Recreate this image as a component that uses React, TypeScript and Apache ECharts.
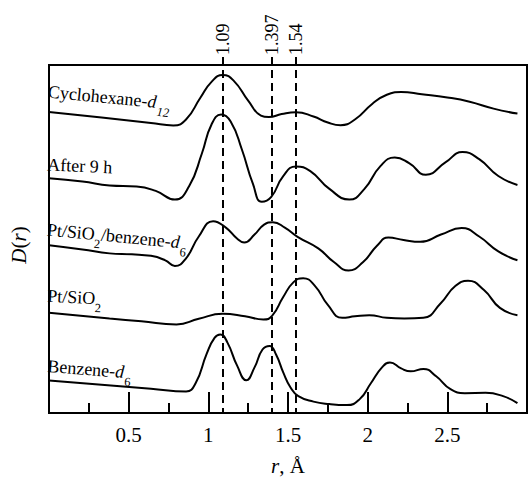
import React, { useEffect, useRef } from 'react';
import * as echarts from 'echarts';

const FONT = '"Liberation Serif", "Times New Roman", serif';

// r (Å) vs D(r) (arbitrary units, curves stacked as in the figure)
const cyclohexane: [number, number][] = [
  [0, 303.7], [0.33, 298], [0.64, 292.5], [0.78, 290], [0.86, 296], [0.95, 318], [1.02, 334],
  [1.09, 341], [1.16, 335], [1.25, 315], [1.33, 300], [1.38, 298.5], [1.46, 301.5], [1.55, 303.3],
  [1.66, 299], [1.75, 293], [1.83, 290.3], [1.92, 296], [2.03, 312], [2.12, 321], [2.21, 323.7],
  [2.34, 321.5], [2.5, 318.3], [2.64, 314], [2.79, 307], [2.94, 302],
];
const after9h: [number, number][] = [
  [0, 236.7], [0.21, 233.5], [0.38, 229.5], [0.55, 228.5], [0.67, 224], [0.79, 215.3], [0.88, 229],
  [0.96, 262], [1.02, 291], [1.08, 301], [1.14, 294], [1.21, 266], [1.28, 231], [1.335, 213],
  [1.395, 218], [1.47, 239], [1.55, 248.7], [1.64, 244], [1.76, 226], [1.885, 215.3], [1.98, 226],
  [2.08, 249], [2.17, 257.7], [2.26, 252], [2.365, 240.3], [2.49, 253], [2.595, 263.3], [2.7, 256],
  [2.82, 239], [2.94, 230],
];
const ptSiO2Benzene: [number, number][] = [
  [0, 169.3], [0.21, 165], [0.38, 161], [0.52, 160], [0.64, 158.5], [0.73, 154], [0.79, 148.3],
  [0.86, 156], [0.94, 178], [1.03, 193.5], [1.11, 187], [1.18, 176], [1.225, 172], [1.29, 180],
  [1.35, 190], [1.405, 192.5], [1.48, 187], [1.56, 177.7], [1.69, 166], [1.79, 152], [1.88, 143.7],
  [1.97, 152], [2.06, 169], [2.13, 177], [2.225, 174.5], [2.33, 172.7], [2.46, 180], [2.59, 186.5],
  [2.7, 178], [2.82, 163], [2.94, 154],
];
const ptSiO2: [number, number][] = [
  [0, 101], [0.38, 95.3], [0.58, 92.5], [0.8, 89.3], [0.94, 95], [1.09, 100], [1.23, 97.5],
  [1.345, 94.3], [1.4, 98], [1.47, 117], [1.535, 132], [1.595, 136], [1.67, 128], [1.75, 109],
  [1.84, 96], [1.92, 97.5], [2.01, 98.7], [2.12, 96], [2.23, 95.3], [2.35, 96], [2.46, 111],
  [2.55, 128], [2.63, 133.3], [2.73, 124], [2.83, 106], [2.94, 98.7],
];
const benzene: [number, number][] = [
  [0, 32.7], [0.33, 28.5], [0.64, 24.5], [0.86, 21.7], [0.92, 30], [0.99, 60], [1.04, 76],
  [1.075, 79.3], [1.12, 71], [1.18, 48], [1.238, 33], [1.29, 46], [1.34, 64], [1.385, 67.7],
  [1.425, 59], [1.47, 41], [1.515, 26], [1.565, 17], [1.66, 11.5], [1.76, 9], [1.87, 8], [1.95, 14],
  [2.02, 30], [2.09, 46], [2.14, 51], [2.21, 45], [2.27, 42], [2.35, 44.5], [2.43, 37], [2.52, 24],
  [2.61, 20], [2.74, 20.3], [2.85, 17], [2.94, 10],
];

// reference distances (Å) and their labels
const refLinePositions = [1.09, 1.397, 1.55];
const refLineLabels = ['1.09', '1.397', '1.54'];

// curve labels: parts (text, italic, subscript)
type Part = { t: string; it?: boolean; sub?: boolean };
const curveLabels: Part[][] = [
  [{ t: 'Cyclohexane-' }, { t: 'd', it: true }, { t: '12', it: true, sub: true }],
  [{ t: 'After 9 h' }],
  [{ t: 'Pt/SiO' }, { t: '2', sub: true }, { t: '/benzene-' }, { t: 'd', it: true }, { t: '6', sub: true }],
  [{ t: 'Pt/SiO' }, { t: '2', sub: true }],
  [{ t: 'Benzene-' }, { t: 'd', it: true }, { t: '6', sub: true }],
];

export default function App() {
  const ref = useRef<HTMLDivElement>(null);

  useEffect(() => {
    const chart = echarts.init(ref.current!, null, { renderer: 'svg' });
    const mkSeries = (data: [number, number][]) => ({
      type: 'line',
      data,
      smooth: 0.5,
      symbol: 'none',
      silent: true,
      lineStyle: { color: '#000', width: 2 },
    });
    chart.setOption({
      animation: false,
      textStyle: { fontFamily: FONT, color: '#000' },
      grid: { left: 45, top: 65, width: 495, height: 351, show: true, borderColor: '#000', borderWidth: 2 },
      xAxis: {
        type: 'value',
        min: 0,
        max: 3,
        interval: 0.5,
        axisLine: { show: true, lineStyle: { color: '#000', width: 2 } },
        axisTick: { show: true, inside: true, length: 21, lineStyle: { color: '#000', width: 2 } },
        minorTick: { show: true, splitNumber: 2, length: 10, lineStyle: { color: '#000', width: 2 } },
        splitLine: { show: false },
        axisLabel: {
          fontFamily: FONT,
          fontSize: 21,
          color: '#000',
          margin: 11,
          formatter: (v: number) => (v === 0 || v === 3 ? '' : String(v)),
        },
        name: '{i|r}, Å',
        nameLocation: 'middle',
        nameGap: 42,
        nameTextStyle: {
          fontFamily: FONT,
          fontSize: 21,
          color: '#000',
          rich: { i: { fontStyle: 'italic', fontFamily: FONT, fontSize: 21, color: '#000' } },
        },
      },
      yAxis: {
        type: 'value',
        min: 0,
        max: 351,
        axisLine: { show: true, lineStyle: { color: '#000', width: 2 } },
        axisTick: { show: false },
        axisLabel: { show: false },
        splitLine: { show: false },
        name: '{i|D}({i|r})',
        nameLocation: 'middle',
        nameGap: 20,
        nameTextStyle: {
          fontFamily: FONT,
          fontSize: 21,
          color: '#000',
          padding: [0, 12, 0, 0],
          rich: { i: { fontStyle: 'italic', fontFamily: FONT, fontSize: 21, color: '#000' } },
        },
      },
      series: [cyclohexane, after9h, ptSiO2Benzene, ptSiO2, benzene].map(mkSeries),
    });

    const xPx = (r: number) => chart.convertToPixel({ xAxisIndex: 0 }, r) as number;
    const yPx = (d: number) => chart.convertToPixel({ yAxisIndex: 0 }, d) as number;

    const ctx = document.createElement('canvas').getContext('2d')!;
    const FS = 18;
    const SFS = 12.5;
    const SUB = 8;
    const measure = (t: string, size: number, it?: boolean) => {
      ctx.font = `${it ? 'italic ' : ''}${size}px ${FONT}`;
      return ctx.measureText(t).width;
    };

    const labelPlaces = [
      { x: 47.5, y: 97.5, a: 5.5 },
      { x: 47, y: 170.5, a: 2.5 },
      { x: 46.5, y: 235.5, a: 5.5 },
      { x: 47, y: 301.8, a: 3 },
      { x: 47, y: 372, a: 4.5 },
    ];

    const graphics: any[] = [];
    curveLabels.forEach((parts, i) => {
      const place = labelPlaces[i];
      let cx = 0;
      const children: any[] = [];
      parts.forEach((p) => {
        const size = p.sub ? SFS : FS;
        const baseline = p.sub ? SUB : 0;
        children.push({
          type: 'text',
          x: cx,
          y: baseline - 0.3375 * size,
          style: {
            text: p.t,
            fontFamily: FONT,
            fontSize: size,
            fontStyle: p.it ? 'italic' : 'normal',
            fill: '#000',
            align: 'left',
            verticalAlign: 'middle',
          },
        });
        cx += measure(p.t, size, p.it) + (p.it && !p.sub ? 1 : 0);
      });
      graphics.push({
        type: 'group',
        x: place.x,
        y: place.y,
        rotation: (-place.a * Math.PI) / 180,
        children,
        silent: true,
      });
    });

    const yBottom = yPx(0);
    refLinePositions.forEach((r, i) => {
      const X = Math.round(xPx(r));
      graphics.push({
        type: 'line',
        silent: true,
        shape: { x1: X, y1: 57, x2: X, y2: yBottom },
        style: { stroke: '#000', lineWidth: 2, lineDash: [8, 5] },
      });
      graphics.push({
        type: 'text',
        silent: true,
        x: X,
        y: 55,
        rotation: Math.PI / 2,
        style: {
          text: refLineLabels[i],
          fontFamily: FONT,
          fontSize: 18,
          fill: '#000',
          align: 'left',
          verticalAlign: 'middle',
        },
      });
    });

    chart.setOption({ graphic: graphics });

    return () => chart.dispose();
  }, []);

  return <div ref={ref} style={{ position: 'absolute', left: 0, top: 0, width: 530, height: 481 }} />;
}
